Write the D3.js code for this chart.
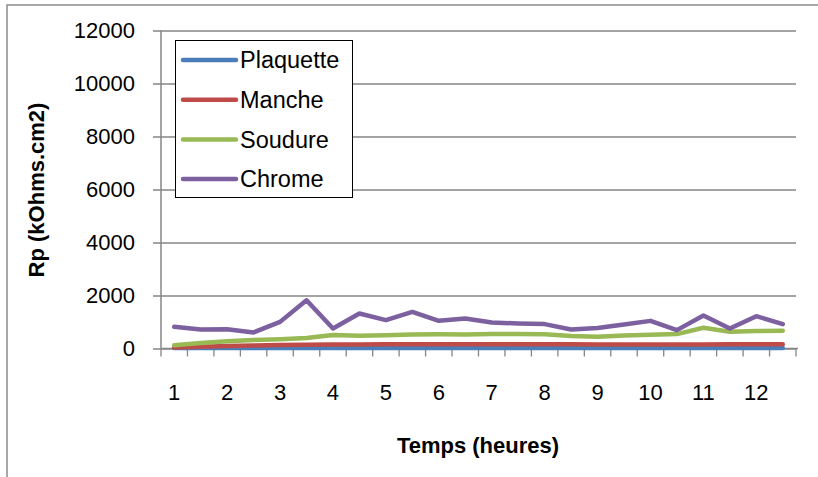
<!DOCTYPE html>
<html>
<head>
<meta charset="utf-8">
<script src="https://cdn.jsdelivr.net/npm/d3@7"></script>
<style>
  body { margin: 0; background: #fff; }
  text { font-family: "Liberation Sans", Arial, sans-serif; fill: #000; }
</style>
</head>
<body>
<svg id="chart" width="818" height="477"></svg>
<script>
// Categories (hours, every half hour)
var categories = ["1", "1.5", "2", "2.5", "3", "3.5", "4", "4.5", "5", "5.5", "6", "6.5",
                  "7", "7.5", "8", "8.5", "9", "9.5", "10", "10.5", "11", "11.5", "12", "12.5"];

var plaquette = [15, 15, 15, 15, 15, 15, 15, 15, 15, 15, 15, 15,
                 15, 15, 15, 15, 15, 15, 15, 15, 15, 15, 15, 15];
var manche = [40, 70, 95, 115, 130, 140, 150, 150, 160, 160, 165, 165,
              165, 165, 165, 160, 150, 150, 150, 150, 155, 160, 160, 160];
var soudure = [120, 210, 270, 320, 350, 400, 510, 480, 500, 530, 540, 530,
               544, 544, 540, 470, 443, 495, 520, 544, 782, 632, 657, 670];
var chrome = [818, 720, 730, 607, 1005, 1820, 757, 1320, 1070, 1380, 1043, 1133,
              983, 945, 920, 720, 770, 908, 1043, 694, 1245, 757, 1220, 920];

var yTicks = [0, 2000, 4000, 6000, 8000, 10000, 12000];

var seriesNames = ["Plaquette", "Manche", "Soudure", "Chrome"];
var seriesColors = ["#4a7ebb", "#be4b48", "#98b954", "#7d60a0"];
var seriesData = [plaquette, manche, soudure, chrome];

var svg = d3.select("#chart");

// Outer chart border
svg.append("rect")
    .attr("x", 7).attr("y", 5)
    .attr("width", 830).attr("height", 500)
    .attr("fill", "#fff")
    .attr("stroke", "#8c8c8c")
    .attr("stroke-width", 1.5);

var plot = { left: 161, right: 796, top: 30.5, bottom: 348.5 };

var x = d3.scaleBand()
    .domain(categories)
    .range([plot.left, plot.right]);

var y = d3.scaleLinear()
    .domain([0, 12000])
    .range([plot.bottom, plot.top]);

// Horizontal gridlines + y ticks
svg.append("g")
    .attr("transform", "translate(" + plot.left + ",0)")
    .call(d3.axisLeft(y).tickValues(yTicks)
        .tickSize(-(plot.right - plot.left))
        .tickSizeOuter(0)
        .tickPadding(26)
        .tickFormat(d3.format("d")))
    .call(function (g) {
        g.select(".domain").remove();
        g.selectAll(".tick line")
            .attr("x1", -8)
            .attr("stroke", "#868686")
            .attr("stroke-width", 1.3);
        g.selectAll(".tick text")
            .attr("font-size", 22)
            .attr("font-family", "Liberation Sans, Arial, sans-serif");
    });

// Vertical axis line
svg.append("line")
    .attr("x1", plot.left).attr("x2", plot.left)
    .attr("y1", plot.top).attr("y2", plot.bottom)
    .attr("stroke", "#868686").attr("stroke-width", 1.5);

// X axis with a tick at every category boundary
var boundaries = categories.map(function (c) { return x(c); }).concat([plot.right]);
var xAxis = svg.append("g");
xAxis.append("line")
    .attr("x1", plot.left).attr("x2", plot.right + 2)
    .attr("y1", plot.bottom).attr("y2", plot.bottom)
    .attr("stroke", "#868686").attr("stroke-width", 1.5);
xAxis.selectAll(".xtick")
    .data(boundaries)
    .enter().append("line")
    .attr("x1", function (d) { return d; })
    .attr("x2", function (d) { return d; })
    .attr("y1", plot.bottom)
    .attr("y2", plot.bottom + 8)
    .attr("stroke", "#868686").attr("stroke-width", 1.3);

// Only the whole hours get a label
xAxis.selectAll(".xlabel")
    .data(categories.filter(function (c, i) { return i % 2 === 0; }))
    .enter().append("text")
    .attr("x", function (d) { return x(d) + x.bandwidth() / 2; })
    .attr("y", 392)
    .attr("dy", "0.35em")
    .attr("text-anchor", "middle")
    .attr("font-size", 22)
    .text(function (d) { return d; });

// Axis titles
svg.append("text")
    .attr("transform", "translate(36,190) rotate(-90)")
    .attr("text-anchor", "middle")
    .attr("dy", "0.35em")
    .attr("font-size", 22)
    .attr("font-weight", "bold")
    .text("Rp (kOhms.cm2)");

svg.append("text")
    .attr("x", 478)
    .attr("y", 445)
    .attr("dy", "0.35em")
    .attr("text-anchor", "middle")
    .attr("font-size", 22)
    .attr("font-weight", "bold")
    .text("Temps (heures)");

// Series lines
var line = d3.line()
    .x(function (d, i) { return x(categories[i]) + x.bandwidth() / 2; })
    .y(function (d) { return y(d); });

svg.append("g")
    .selectAll("path")
    .data(seriesData)
    .enter().append("path")
    .attr("d", line)
    .attr("fill", "none")
    .attr("stroke", function (d, i) { return seriesColors[i]; })
    .attr("stroke-width", 4.5)
    .attr("stroke-linejoin", "round")
    .attr("stroke-linecap", "round");

// Legend
var legend = svg.append("g");
legend.append("rect")
    .attr("x", 175.5).attr("y", 40.5)
    .attr("width", 177).attr("height", 157)
    .attr("fill", "#fff")
    .attr("stroke", "#000")
    .attr("stroke-width", 1);

var rows = legend.selectAll(".row")
    .data(seriesNames)
    .enter().append("g")
    .attr("transform", function (d, i) { return "translate(0," + (60 + i * 39.7) + ")"; });

rows.append("line")
    .attr("x1", 183).attr("x2", 236)
    .attr("stroke", function (d, i) { return seriesColors[i]; })
    .attr("stroke-width", 4.5)
    .attr("stroke-linecap", "round");

rows.append("text")
    .attr("x", 240)
    .attr("dy", "0.35em")
    .attr("font-size", 23.5)
    .text(function (d) { return d; });
</script>
</body>
</html>
